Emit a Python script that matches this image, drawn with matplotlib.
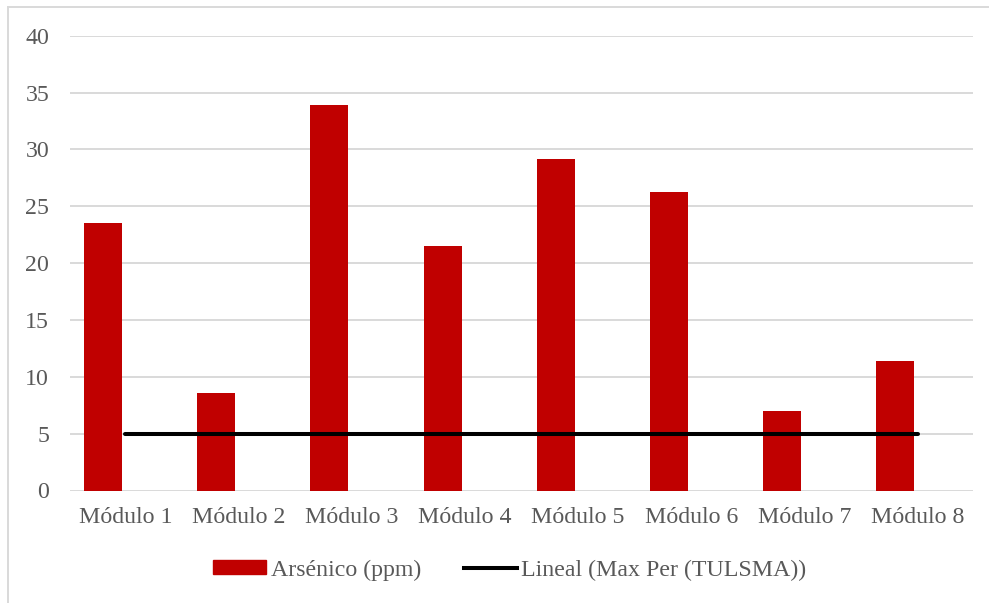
import numpy as np
import matplotlib.pyplot as plt
from matplotlib.lines import Line2D
from matplotlib.patches import Patch

# Datos: arsénico por módulo y límite permisible (TULSMA)
modulos = ['Módulo 1', 'Módulo 2', 'Módulo 3', 'Módulo 4',
           'Módulo 5', 'Módulo 6', 'Módulo 7', 'Módulo 8']
arsenico = [23.55, 8.55, 33.9, 21.5, 29.15, 26.25, 7.0, 11.4]
max_per = [5, 5, 5, 5, 5, 5, 5, 5]

rojo = '#c00000'
gris_txt = '#595959'
gris_lin = '#d9d9d9'
fs = 17.2

plt.rcParams['font.family'] = ['Liberation Serif', 'DejaVu Serif']

fig = plt.figure(figsize=(9.89, 6.03), dpi=100)
ax = fig.add_axes([70/989, 1 - 490.5/603, (973 - 70)/989, (490.5 - 35.7)/603])

x = np.arange(len(modulos))
ax.bar(x - 0.197, arsenico, width=0.336, color=rojo, zorder=2)
ax.plot(x, max_per, color='black', linewidth=2.9, solid_capstyle='round', zorder=3)

ax.set_xlim(-0.49, 7.49)
ax.set_ylim(0, 40)
ax.set_yticks(range(0, 41, 5))
ax.set_xticks(x)
ax.set_xticklabels(modulos)
ax.grid(axis='y', color=gris_lin, linewidth=1.4, zorder=0)
ax.set_axisbelow(True)
for s in ax.spines.values():
    s.set_visible(False)
ax.tick_params(axis='both', length=0, labelsize=fs, labelcolor=gris_txt)
ax.tick_params(axis='y', pad=15)
ax.tick_params(axis='x', pad=12)

# Leyenda
handles = [Patch(color=rojo), Line2D([], [], color='black', linewidth=2.9)]
labels = ['Arsénico (ppm)', 'Lineal (Max Per (TULSMA))']
fig.legend(handles, labels, loc='center', bbox_to_anchor=(510/989, 1 - 570/603),
           ncol=2, frameon=False, fontsize=fs, labelcolor=gris_txt,
           handlelength=2.2, handleheight=0.55, handletextpad=0.2, columnspacing=1.8)

# Borde del área del gráfico
fig.add_artist(Line2D([8/989, 1], [1 - 7/603, 1 - 7/603], color=gris_lin, linewidth=1.4))
fig.add_artist(Line2D([8/989, 8/989], [0, 1 - 7/603], color=gris_lin, linewidth=1.4))

fig.savefig('out.png', dpi=100, facecolor='white')
